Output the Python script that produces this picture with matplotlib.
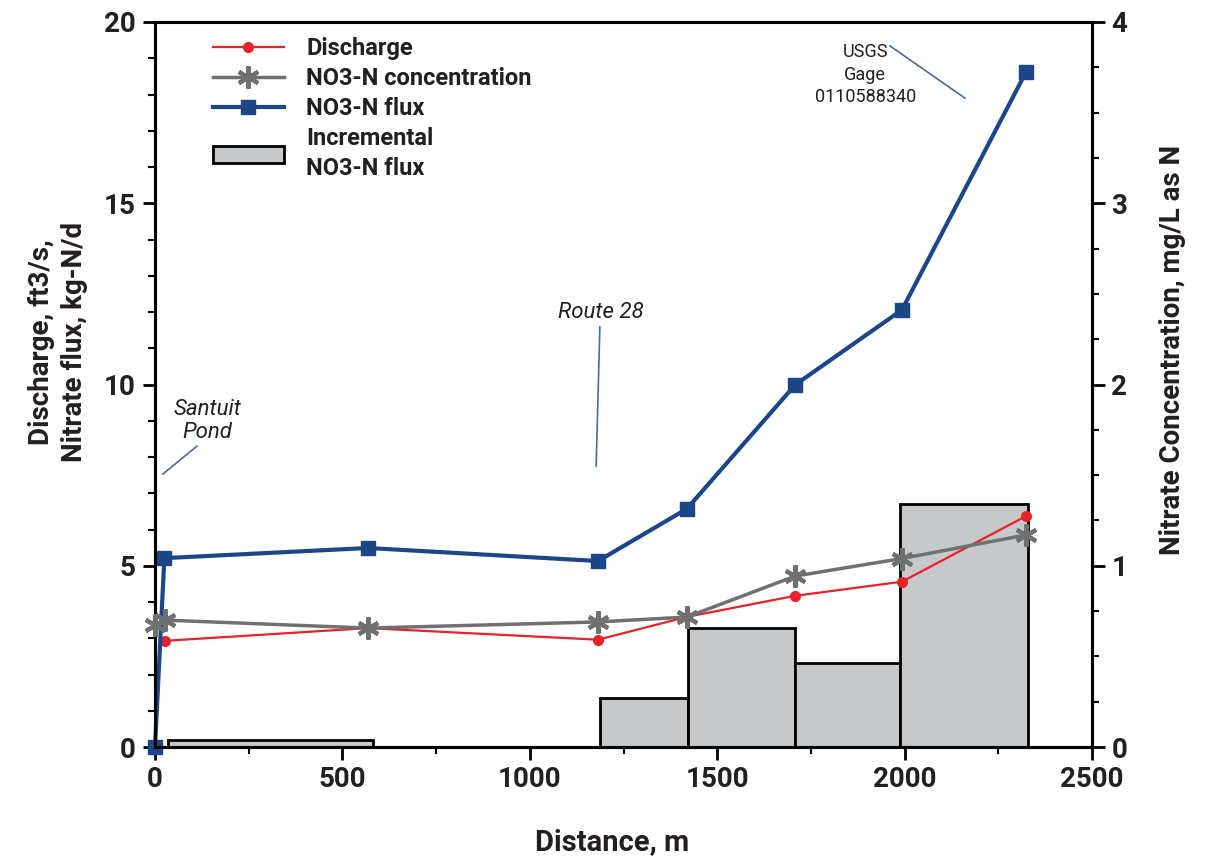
import matplotlib
matplotlib.use("Agg")
import matplotlib.pyplot as plt
from matplotlib.patches import Patch
from matplotlib.ticker import MultipleLocator

plt.rcParams["font.family"] = ["Roboto", "DejaVu Sans"]
plt.rcParams["font.weight"] = "bold"

# --- Data ---------------------------------------------------------------
flux_x = [0, 25, 568, 1182, 1419, 1708, 1993, 2324]
flux_y = [0.0, 5.21, 5.49, 5.13, 6.57, 9.99, 12.06, 18.62]

discharge_x = [28, 568, 1182, 1419, 1708, 1993, 2324]
discharge_y = [2.93, 3.28, 2.96, 3.59, 4.17, 4.56, 6.37]

conc_x = [0, 28, 568, 1182, 1419, 1708, 1993, 2324]
conc_y = [0.674, 0.70, 0.656, 0.69, 0.717, 0.943, 1.04, 1.17]

bar_left = [35, 1187, 1422, 1708, 1988]
bar_right = [582, 1422, 1708, 1988, 2329]
bar_height = [0.2, 1.35, 3.28, 2.32, 6.70]

# --- Colours --------------------------------------------------------------
BLUE = "#1d4689"
RED = "#e8212b"
GRAY = "#6f7072"
BAR_FILL = "#c7c8ca"
NOTE_LINE = "#4a6a9a"
TEXT = "#231f20"

fig = plt.figure(figsize=(12.09, 8.68), dpi=100)
ax = fig.add_axes([155 / 1209, 1 - 747 / 868, 937 / 1209, 725 / 868])
ax2 = ax.twinx()

# Incremental flux bars
widths = [r - l for l, r in zip(bar_left, bar_right)]
ax.bar(bar_left, bar_height, width=widths, align="edge",
       color=BAR_FILL, edgecolor="black", linewidth=2, zorder=1)

# Lines
l_dis, = ax.plot(discharge_x, discharge_y, color=RED, lw=1.6,
                 marker="o", ms=7, zorder=4, clip_on=False)
l_flux, = ax.plot(flux_x, flux_y, color=BLUE, lw=3,
                  marker="s", ms=10, zorder=5, clip_on=False)
l_conc, = ax2.plot(conc_x, conc_y, color=GRAY, lw=2.5,
                   marker=(6, 2, 0), ms=16, mew=3, zorder=3, clip_on=False)

# Axes limits / ticks
ax.set_xlim(0, 2500)
ax.set_ylim(0, 20)
ax2.set_ylim(0, 4)
ax.xaxis.set_major_locator(MultipleLocator(500))
ax.xaxis.set_minor_locator(MultipleLocator(250))
ax.yaxis.set_major_locator(MultipleLocator(5))
ax.yaxis.set_minor_locator(MultipleLocator(1))
ax2.yaxis.set_major_locator(MultipleLocator(1))
ax2.yaxis.set_minor_locator(MultipleLocator(0.25))

for a in (ax, ax2):
    a.tick_params(which="major", direction="out", length=9, width=2,
                  labelsize=20, pad=5, labelcolor=TEXT)
    a.tick_params(which="minor", direction="out", length=5, width=1.5)
    for s in a.spines.values():
        s.set_linewidth(2.2)
ax2.tick_params(axis="y", which="both", right=True)
for lab in ax.get_xticklabels() + ax.get_yticklabels() + ax2.get_yticklabels():
    lab.set_fontweight("bold")

ax.set_xlabel("Distance, m", fontsize=21, fontweight="bold", color=TEXT)
ax.xaxis.set_label_coords(0.488, -0.112)
ax.set_ylabel("Discharge, ft3/s,\nNitrate flux, kg-N/d", fontsize=20,
              fontweight="bold", linespacing=1.3, color=TEXT)
ax.yaxis.set_label_coords(-0.071, 0.559)
ax2.set_ylabel("Nitrate Concentration, mg/L as N", fontsize=20,
               fontweight="bold", color=TEXT)
ax2.yaxis.set_label_coords(1.072, 0.548)

# Annotations
note_kw = dict(fontsize=16, style="italic", fontweight="normal",
               ha="center", va="center", color=TEXT)
ax.text(140, 9.0, "Santuit\nPond", linespacing=1.15, **note_kw)
ax.plot([21, 112], [7.53, 8.3], color=NOTE_LINE, lw=1.2, zorder=2)
ax.text(1190, 12.0, "Route 28", **note_kw)
ax.plot([1187, 1177], [11.59, 7.75], color=NOTE_LINE, lw=1.2, zorder=2)
ax.text(1895, 18.55, "USGS\nGage\n0110588340", fontsize=13, fontweight="normal",
        ha="center", va="center", color=TEXT, linespacing=1.35)
ax.plot([1961, 2161], [19.34, 17.9], color=NOTE_LINE, lw=1.2, zorder=2)

# Legend
bar_handle = Patch(facecolor=BAR_FILL, edgecolor="black", linewidth=2)
leg = ax2.legend([l_dis, l_conc, l_flux, bar_handle],
                 ["Discharge", "NO3-N concentration", "NO3-N flux",
                  "Incremental\nNO3-N flux"],
                 loc="upper left", bbox_to_anchor=(58 / 937, 1 - 15 / 725),
                 frameon=False, fontsize=17, handlelength=3.0,
                 handletextpad=0.95, labelspacing=0.3, borderpad=0,
                 borderaxespad=0)
for t in leg.get_texts():
    t.set_fontweight("bold")
    t.set_color(TEXT)
    t.set_linespacing(1.4)

fig.savefig("out.png", dpi=100)
